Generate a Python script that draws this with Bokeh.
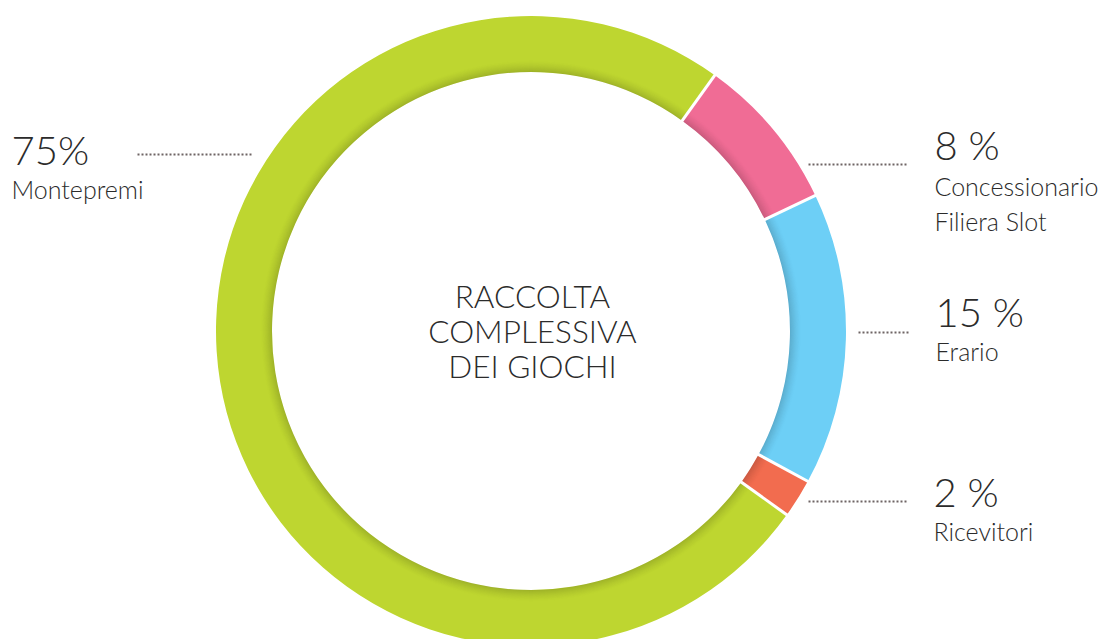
import numpy as np
from bokeh.plotting import figure
from bokeh.models import Range1d, ColumnDataSource
from bokeh.core.properties import value
from bokeh.embed import file_html
from bokeh.resources import INLINE

# ---- data ----
categories = ["Concessionario\nFiliera Slot", "Erario", "Ricevitori", "Montepremi"]
shares = [8, 15, 2, 75]
pct_labels = ["8 %", "15 %", "2 %", "75%"]
colors = ["#F06C95", "#6DCFF6", "#F26C4F", "#BED630"]
center_title = ["RACCOLTA", "COMPLESSIVA", "DEI GIOCHI"]

W, H = 1107, 639
def Y(py):
    return H - py

CX, CY = 530.5, Y(330.5)
R_OUT, R_IN = 315, 259
START = 90 - 35.7  # degrees, first segment start (clockwise from here)

p = figure(width=W, height=H, output_backend="svg", toolbar_location=None,
           x_range=Range1d(0, W), y_range=Range1d(0, H), min_border=0)
p.axis.visible = False
p.grid.visible = False
p.outline_line_color = None
p.background_fill_color = "white"

vals = np.array(shares, dtype=float)
cum = np.concatenate([[0], np.cumsum(vals)[:-1]])
starts = np.radians(START - cum * 3.6)
ends = np.radians(START - (cum + vals) * 3.6)
src = ColumnDataSource(dict(x=[CX] * 4, y=[CY] * 4, s=starts, e=ends, c=colors))
p.annular_wedge(x="x", y="y", inner_radius=R_IN, outer_radius=R_OUT,
                start_angle="s", end_angle="e", direction="clock",
                fill_color="c", line_color=None, source=src)

# inner shadow on the ring
for i in range(12):
    a = 0.16 * (1 - i / 12) ** 1.6
    p.annulus(x=[CX], y=[CY], inner_radius=R_IN + i, outer_radius=R_IN + i + 1,
              fill_color="black", fill_alpha=a, line_color=None)

# white separators between segments
for ang in starts:
    p.segment(x0=[CX + (R_IN - 2) * np.cos(ang)], y0=[CY + (R_IN - 2) * np.sin(ang)],
              x1=[CX + (R_OUT + 2) * np.cos(ang)], y1=[CY + (R_OUT + 2) * np.sin(ang)],
              line_color="white", line_width=3)

FONT = value("Lato Light")
TXT = "#2b2b2b"

def put(x, baseline, txt, size, align="left"):
    # empirical offset: rendered glyphs sit ~0.3em below the requested baseline
    p.text(x=[x], y=[Y(baseline - 0.3 * size - 2)], text=[txt], text_font=FONT,
           text_font_size=f"{size}px", text_color=TXT, text_align=align,
           text_baseline="alphabetic")

# center title
for i, t in enumerate(center_title):
    put(532, 307 + 35 * i, t, 31.5, "center")

# labels: (x, pct baseline, name baselines, dotted line x0, x1, y)
layout = [
    (934, 158, [195, 230], 808, 906, 164),
    (935, 325, [360], 858, 908, 332),
    (933, 505, [540], 808, 906, 501),
    (11, 163, [198], 137, 253, 154),
]
for k, (lx, pb, nbs, dx0, dx1, dy) in enumerate(layout):
    put(lx, pb, pct_labels[k], 40)
    for j, line in enumerate(categories[k].split("\n")):
        put(lx, nbs[j], line, 25)
    p.line(x=[dx0, dx1], y=[Y(dy), Y(dy)], line_color="#6e6464", line_width=2,
           line_dash="2 2")

open("out.html", "w").write(file_html(p, INLINE))
